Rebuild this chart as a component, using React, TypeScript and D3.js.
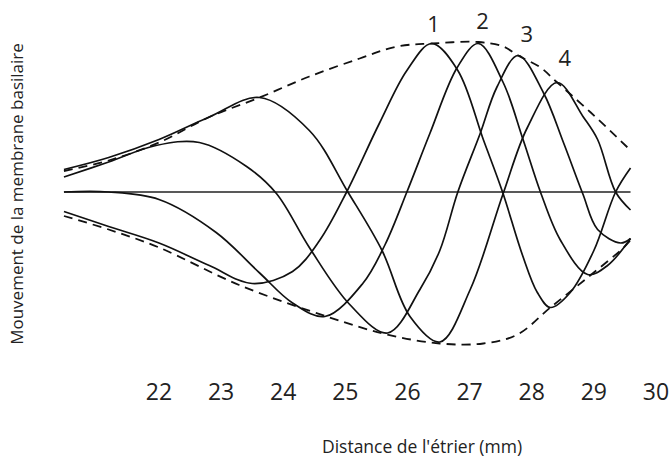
import React from "react";
import * as d3 from "d3";

// distance from the stapes (mm) / relative displacement
const xTicks = [22, 23, 24, 25, 26, 27, 28, 29, 30];

const curve1 = [
  [20.47, -0.13], [21.19, -0.23], [22.0, -0.34], [22.81, -0.49], [23.5, -0.61],
  [24.15, -0.53], [24.59, -0.32], [25.02, 0.0], [25.55, 0.46], [25.99, 0.81],
  [26.39, 0.99], [26.81, 0.81], [27.22, 0.35], [27.53, 0.0], [27.85, -0.42],
  [28.09, -0.67], [28.3, -0.77], [28.62, -0.67], [29.0, -0.39], [29.35, 0.0],
  [29.59, 0.16],
];

const curve2 = [
  [20.47, 0.0], [21.19, 0.0], [22.0, -0.05], [22.92, -0.27], [23.62, -0.54],
  [24.15, -0.74], [24.67, -0.83], [25.28, -0.61], [25.64, -0.35], [25.99, 0.0],
  [26.36, 0.39], [26.8, 0.83], [27.14, 0.99], [27.54, 0.73], [27.86, 0.35],
  [28.14, 0.0], [28.46, -0.32], [28.9, -0.55], [29.22, -0.49], [29.59, -0.31],
];

const curve3 = [
  [20.47, 0.1], [21.19, 0.2], [21.95, 0.31], [22.65, 0.33], [23.41, 0.17],
  [23.89, -0.01], [24.42, -0.37], [25.07, -0.75], [25.68, -0.94], [26.2, -0.65],
  [26.52, -0.39], [26.81, 0.0], [27.17, 0.39], [27.44, 0.7], [27.78, 0.91],
  [28.19, 0.66], [28.51, 0.33], [28.82, -0.01], [29.06, -0.25], [29.43, -0.34],
  [29.59, -0.31],
];

const curve4 = [
  [20.47, 0.15], [21.19, 0.23], [22.0, 0.35], [22.81, 0.5], [23.62, 0.63],
  [24.42, 0.41], [25.04, 0.0], [25.59, -0.39], [26.04, -0.83], [26.52, -1.0],
  [27.01, -0.65], [27.54, -0.01], [27.93, 0.43], [28.41, 0.73], [28.83, 0.5],
  [29.06, 0.35], [29.35, 0.0], [29.59, -0.12],
];

const upperEnvelope = [
  [20.47, 0.14], [21.19, 0.21], [22.0, 0.33], [22.81, 0.5], [23.62, 0.63],
  [24.42, 0.77], [25.23, 0.89], [25.83, 0.97], [26.39, 0.99], [27.14, 1.0],
  [27.54, 0.97], [27.78, 0.91], [28.14, 0.83], [28.41, 0.73], [28.95, 0.53],
  [29.56, 0.29],
];

const lowerEnvelope = [
  [20.47, -0.16], [21.19, -0.25], [22.0, -0.37], [23.29, -0.62], [24.7, -0.83],
  [25.67, -0.95], [26.52, -1.01], [27.22, -1.01], [27.77, -0.95], [28.3, -0.77],
  [28.9, -0.57], [29.48, -0.37], [29.59, -0.32],
];

const baseline = [[20.47, 0], [29.59, 0]];

const curveLabels = [
  { text: "1", x: 26.42, y: 1.13 },
  { text: "2", x: 27.21, y: 1.15 },
  { text: "3", x: 27.92, y: 1.06 },
  { text: "4", x: 28.53, y: 0.9 },
];

const App = () => {
  const width = 670;
  const height = 458;
  const font = "'Open Sans', 'Noto Sans', sans-serif";

  const xScale = d3.scaleLinear().domain([22, 30]).range([159, 656]);
  const yScale = d3.scaleLinear().domain([-1, 1]).range([342, 42]);

  const line = d3
    .line()
    .x((d) => xScale(d[0]))
    .y((d) => yScale(d[1]))
    .curve(d3.curveCatmullRom.alpha(0.5));

  const solids = [curve1, curve2, curve3, curve4];

  return (
    <svg
      width={width}
      height={height}
      style={{ position: "absolute", left: 0, top: 0, background: "#fff" }}
    >
      <path d={line(baseline)} fill="none" stroke="#222" strokeWidth={1.3} />
      {[upperEnvelope, lowerEnvelope].map((d, i) => (
        <path
          key={"env" + i}
          d={line(d)}
          fill="none"
          stroke="#111"
          strokeWidth={1.8}
          strokeDasharray="9,6"
        />
      ))}
      {solids.map((d, i) => (
        <path key={"c" + i} d={line(d)} fill="none" stroke="#111" strokeWidth={1.7} />
      ))}
      {curveLabels.map((l) => (
        <text
          key={l.text}
          x={xScale(l.x)}
          y={yScale(l.y)}
          textAnchor="middle"
          dominantBaseline="central"
          fontFamily={font}
          fontSize={22}
          fill="#222"
        >
          {l.text}
        </text>
      ))}
      {xTicks.map((t) => (
        <text
          key={t}
          x={xScale(t)}
          y={391}
          textAnchor="middle"
          dominantBaseline="central"
          fontFamily={font}
          fontSize={23}
          fill="#222"
        >
          {t}
        </text>
      ))}
      <text
        x={422}
        y={446}
        textAnchor="middle"
        dominantBaseline="central"
        fontFamily={font}
        fontSize={17.5}
        fill="#222"
      >
        Distance de l'étrier (mm)
      </text>
      <text
        transform={`translate(16,${194}) rotate(-90)`}
        textAnchor="middle"
        dominantBaseline="central"
        fontFamily={font}
        fontSize={17}
        fill="#222"
      >
        Mouvement de la membrane basilaire
      </text>
    </svg>
  );
};

export default App;
